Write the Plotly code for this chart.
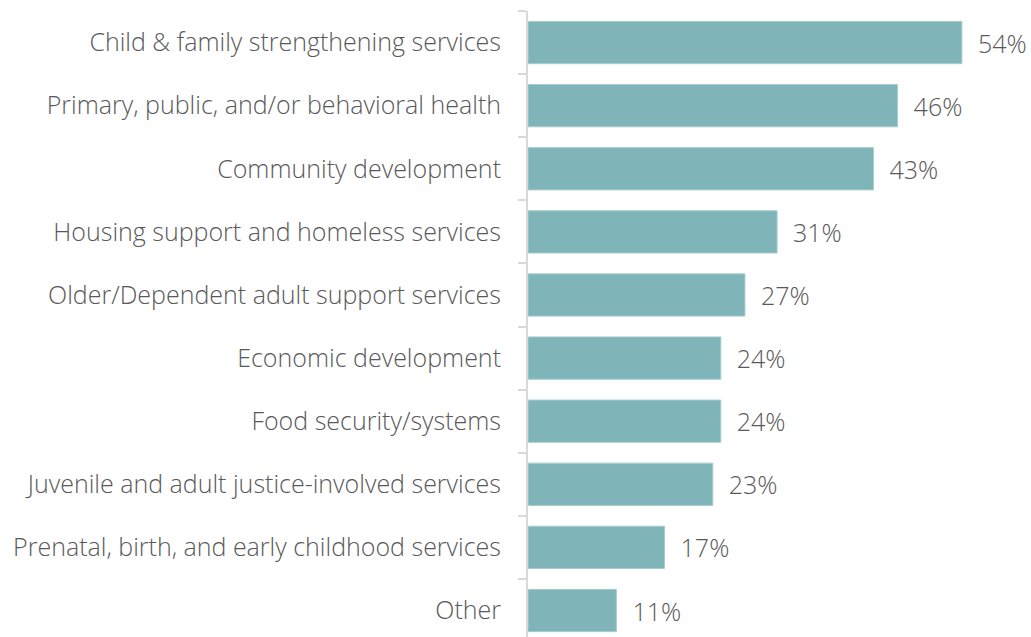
import plotly.graph_objects as go

categories = [
    "Child & family strengthening services",
    "Primary, public, and/or behavioral health",
    "Community development",
    "Housing support and homeless services",
    "Older/Dependent adult support services",
    "Economic development",
    "Food security/systems",
    "Juvenile and adult justice-involved services",
    "Prenatal, birth, and early childhood services",
    "Other",
]
values = [54, 46, 43, 31, 27, 24, 24, 23, 17, 11]
value_labels = [f"{v}%" for v in values]

FONT = "Open Sans"
GREY = "#595959"

fig = go.Figure(
    go.Bar(
        x=values,
        y=categories,
        orientation="h",
        marker=dict(color="#7FB5B8", line=dict(color="#A8CDCF", width=1)),
        text=value_labels,
        texttemplate="\u00a0\u00a0%{text}",
        textposition="outside",
        textfont=dict(family=FONT, size=25, color=GREY, weight=300),
        cliponaxis=False,
        width=0.67,
    )
)

fig.update_layout(
    width=1031,
    height=637,
    margin=dict(l=528, r=0, t=11, b=0),
    paper_bgcolor="white",
    plot_bgcolor="white",
    showlegend=False,
    font=dict(family=FONT, size=25, color=GREY, weight=300),
    xaxis=dict(
        range=[0, 62.6],
        visible=False,
        showgrid=False,
        zeroline=False,
    ),
    yaxis=dict(
        type="category",
        categoryorder="array",
        categoryarray=categories,
        range=[9.42, -0.5],
        showline=True,
        linecolor="#D9D9D9",
        linewidth=2,
        ticks="outside",
        tickson="boundaries",
        ticklen=8,
        tickcolor="#D9D9D9",
        tickwidth=2,
        ticklabelstandoff=20,
        showgrid=False,
        zeroline=False,
        tickfont=dict(family=FONT, size=25, color=GREY, weight=300),
    ),
)

fig.write_html(
    "out.html",
    config={"displayModeBar": False, "staticPlot": True},
    post_script="document.body.style.margin='0';document.body.style.overflow='hidden';",
)
